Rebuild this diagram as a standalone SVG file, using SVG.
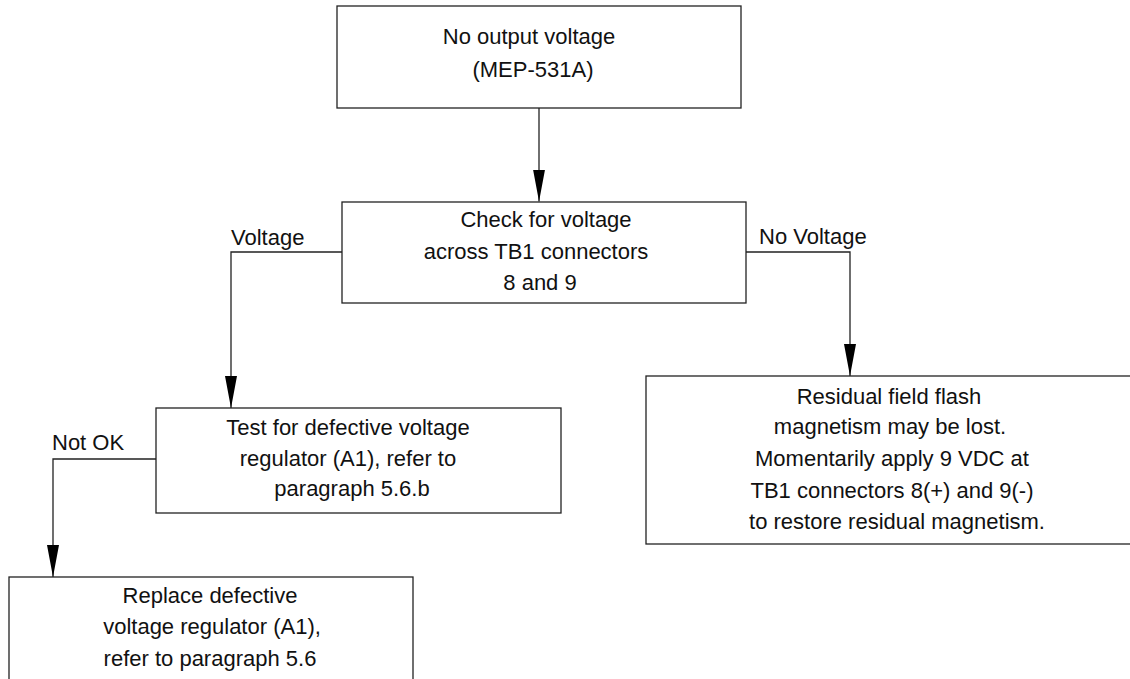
<svg xmlns="http://www.w3.org/2000/svg" width="1130" height="679" viewBox="0 0 1130 679">
  <style>
    .box { fill: #ffffff; stroke: #222222; stroke-width: 1.3; }
    .wire { fill: none; stroke: #222222; stroke-width: 1.3; }
    text { font-family: "Liberation Sans", Arial, sans-serif; font-size: 22px; fill: #111111; }
    .c { text-anchor: middle; }
  </style>
  <defs>
    <marker id="arrow" markerUnits="userSpaceOnUse" markerWidth="34" markerHeight="14" refX="32" refY="6" orient="auto">
      <path d="M0,0 L32,6 L0,12 Z" fill="#000000"/>
    </marker>
  </defs>

  <rect width="1130" height="679" fill="#ffffff"/>

  <!-- connectors -->
  <g id="connectors">
    <path class="wire" d="M539,108 V201.5" marker-end="url(#arrow)"/>
    <path class="wire" d="M342,252 H231 V408" marker-end="url(#arrow)"/>
    <text x="231" y="245">Voltage</text>
    <path class="wire" d="M746,252 H850 V376" marker-end="url(#arrow)"/>
    <text x="759" y="244">No Voltage</text>
    <path class="wire" d="M156,459 H53 V577" marker-end="url(#arrow)"/>
    <text x="52" y="450">Not OK</text>
  </g>

  <!-- start -->
  <g id="node-start">
    <rect class="box" x="337" y="6" width="404" height="102"/>
    <text class="c" x="529" y="44">No output voltage</text>
    <text class="c" x="533" y="77">(MEP-531A)</text>
  </g>

  <!-- check TB1 -->
  <g id="node-check">
    <rect class="box" x="342" y="202" width="404" height="101"/>
    <text class="c" x="546" y="227">Check for voltage</text>
    <text class="c" x="536" y="259">across TB1 connectors</text>
    <text class="c" x="540" y="290">8 and 9</text>
  </g>

  <!-- test regulator -->
  <g id="node-test">
    <rect class="box" x="156" y="408" width="405" height="105"/>
    <text class="c" x="348" y="435">Test for defective voltage</text>
    <text class="c" x="348" y="466">regulator (A1), refer to</text>
    <text class="c" x="352" y="496">paragraph 5.6.b</text>
  </g>

  <!-- residual magnetism -->
  <g id="node-residual">
    <rect class="box" x="646" y="376" width="490" height="168"/>
    <text class="c" x="889" y="404">Residual field flash</text>
    <text class="c" x="890" y="434">magnetism may be lost.</text>
    <text class="c" x="892" y="466">Momentarily apply 9 VDC at</text>
    <text class="c" x="892" y="498">TB1 connectors 8(+) and 9(-)</text>
    <text class="c" x="897" y="529">to restore residual magnetism.</text>
  </g>

  <!-- replace regulator -->
  <g id="node-replace">
    <rect class="box" x="9" y="577" width="404" height="120"/>
    <text class="c" x="210" y="603">Replace defective</text>
    <text class="c" x="212" y="634">voltage regulator (A1),</text>
    <text class="c" x="210" y="666">refer to paragraph 5.6</text>
  </g>
</svg>
